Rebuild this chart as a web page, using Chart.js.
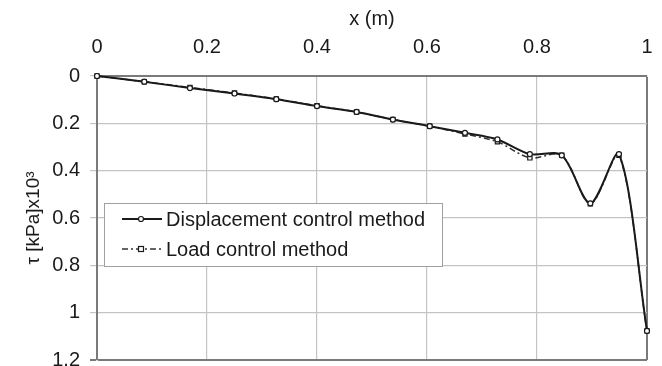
<!DOCTYPE html>
<html><head><meta charset="utf-8">
<script src="https://cdn.jsdelivr.net/npm/chart.js@4/dist/chart.umd.min.js"></script>
<style>
html,body{margin:0;padding:0;background:#fff;overflow:hidden}
#wrap{width:662px;height:366px;position:relative}
</style></head><body>
<div id="wrap"><canvas id="c" width="662" height="366"></canvas></div>
<script>
// ====== data ======
const xPos     = [0, 0.086, 0.169, 0.25, 0.326, 0.40, 0.472, 0.538, 0.605, 0.669, 0.728, 0.787, 0.845, 0.897, 0.949, 1.0];
const tauDisp  = [0, 0.024, 0.051, 0.074, 0.098, 0.127, 0.152, 0.184, 0.212, 0.240, 0.268, 0.330, 0.335, 0.538, 0.330, 1.077];
const tauLoad  = [0, 0.024, 0.048, 0.072, 0.097, 0.126, 0.152, 0.184, 0.212, 0.245, 0.278, 0.346, 0.335, 0.540, 0.335, 1.077];
const xTicks   = [0, 0.2, 0.4, 0.6, 0.8, 1];
const yTicks   = [0, 0.2, 0.4, 0.6, 0.8, 1, 1.2];
const seriesNames = ["Displacement control method", "Load control method"];

const FONT = "'Liberation Sans', Arial, sans-serif";
const ink = '#1a1a1a';
const gridCol = '#c4c4c4';
const frameCol = '#7a7a7a';

const pts = arr => arr.map((v,i)=>({x:xPos[i], y:v}));

// legend box inside the plot, like the Excel original
const legendBox = {
  id: 'legendBox',
  afterDatasetsDraw(chart) {
    const {ctx, chartArea: a} = chart;
    const x0 = a.left + 7, y0 = a.top + 127, w = 338, h = 63;
    ctx.save();
    ctx.fillStyle = '#fff';
    ctx.fillRect(x0, y0, w, h);
    ctx.strokeStyle = '#a0a0a0'; ctx.lineWidth = 1;
    ctx.strokeRect(x0 + 0.5, y0 + 0.5, w, h);
    chart.data.datasets.forEach((ds, i) => {
      const cy = y0 + 16 + i * 30;
      ctx.strokeStyle = ds.borderColor;
      ctx.lineWidth = ds.borderWidth;
      ctx.setLineDash(ds.borderDash || []);
      ctx.beginPath(); ctx.moveTo(x0 + 18, cy); ctx.lineTo(x0 + 58, cy); ctx.stroke();
      ctx.setLineDash([]);
      ctx.lineWidth = 1.2;
      ctx.strokeStyle = ink;
      ctx.fillStyle = '#fff';
      const mx = x0 + 37;
      if (ds.pointStyle === 'rect') {
        ctx.fillRect(mx - 2.5, cy - 2.5, 5, 5); ctx.strokeRect(mx - 2.5, cy - 2.5, 5, 5);
      } else {
        ctx.beginPath(); ctx.arc(mx, cy, 2.5, 0, Math.PI * 2); ctx.fill(); ctx.stroke();
      }
      ctx.fillStyle = ink;
      ctx.font = `20px ${FONT}`;
      ctx.textBaseline = 'middle';
      ctx.fillText(ds.label, x0 + 62, cy + 1);
    });
    ctx.restore();
  }
};

new Chart(document.getElementById('c').getContext('2d'), {
  type: 'line',
  data: {
    datasets: [
      {
        label: seriesNames[0],
        data: pts(tauDisp),
        borderColor: ink,
        borderWidth: 2,
        tension: 0.3,
        pointStyle: 'circle',
        pointRadius: 2.5,
        pointBorderWidth: 1.2,
        pointBackgroundColor: '#fff',
        pointBorderColor: ink,
        clip: false
      },
      {
        label: seriesNames[1],
        data: pts(tauLoad),
        borderColor: '#333',
        borderWidth: 1.5,
        borderDash: [6, 3, 2, 3],
        tension: 0.3,
        pointStyle: 'rect',
        pointRadius: 3,
        pointBorderWidth: 1.2,
        pointBackgroundColor: '#fff',
        pointBorderColor: ink,
        clip: false
      }
    ]
  },
  options: {
    responsive: false,
    animation: false,
    layout: { padding: { left: 0, right: 15, top: 0, bottom: 6 } },
    plugins: { legend: { display: false }, tooltip: { enabled: false } },
    scales: {
      x: {
        type: 'linear',
        position: 'top',
        min: 0, max: 1,
        afterBuildTicks: s => { s.ticks = xTicks.map(v => ({ value: v })); },
        afterFit: s => { s.height = 76; s.paddingLeft = 0; s.paddingRight = 0; },
        grid: {
          color: c => (c.tick && c.tick.value === 1) ? frameCol : gridCol,
          lineWidth: c => (c.tick && c.tick.value === 1) ? 2 : 1.2,
          drawTicks: false
        },
        border: { color: frameCol, width: 2 },
        ticks: { color: ink, font: { family: FONT, size: 20 }, padding: 17, maxRotation: 0,
                 callback: v => String(v) },
        title: { display: true, text: 'x (m)', color: ink, font: { family: FONT, size: 20 },
                 padding: { top: 7, bottom: 0 } }
      },
      y: {
        type: 'linear',
        reverse: true,
        min: 0, max: 1.2,
        afterBuildTicks: s => { s.ticks = yTicks.map(v => ({ value: v })); },
        afterFit: s => { s.width = 97; s.paddingTop = 0; s.paddingBottom = 0; },
        grid: {
          color: c => (c.tick && c.tick.value === 1.2) ? frameCol : gridCol,
          lineWidth: c => (c.tick && c.tick.value === 1.2) ? 2 : 1.2,
          tickLength: 7
        },
        border: { color: frameCol, width: 2 },
        ticks: { color: ink, font: { family: FONT, size: 20 }, padding: 10,
                 callback: v => String(v) },
        title: { display: true, text: 'τ [kPa]x10³', color: ink, font: { family: FONT, size: 19 },
                 padding: { top: 22, bottom: 0 } }
      }
    }
  },
  plugins: [legendBox]
});
</script>
</body></html>
